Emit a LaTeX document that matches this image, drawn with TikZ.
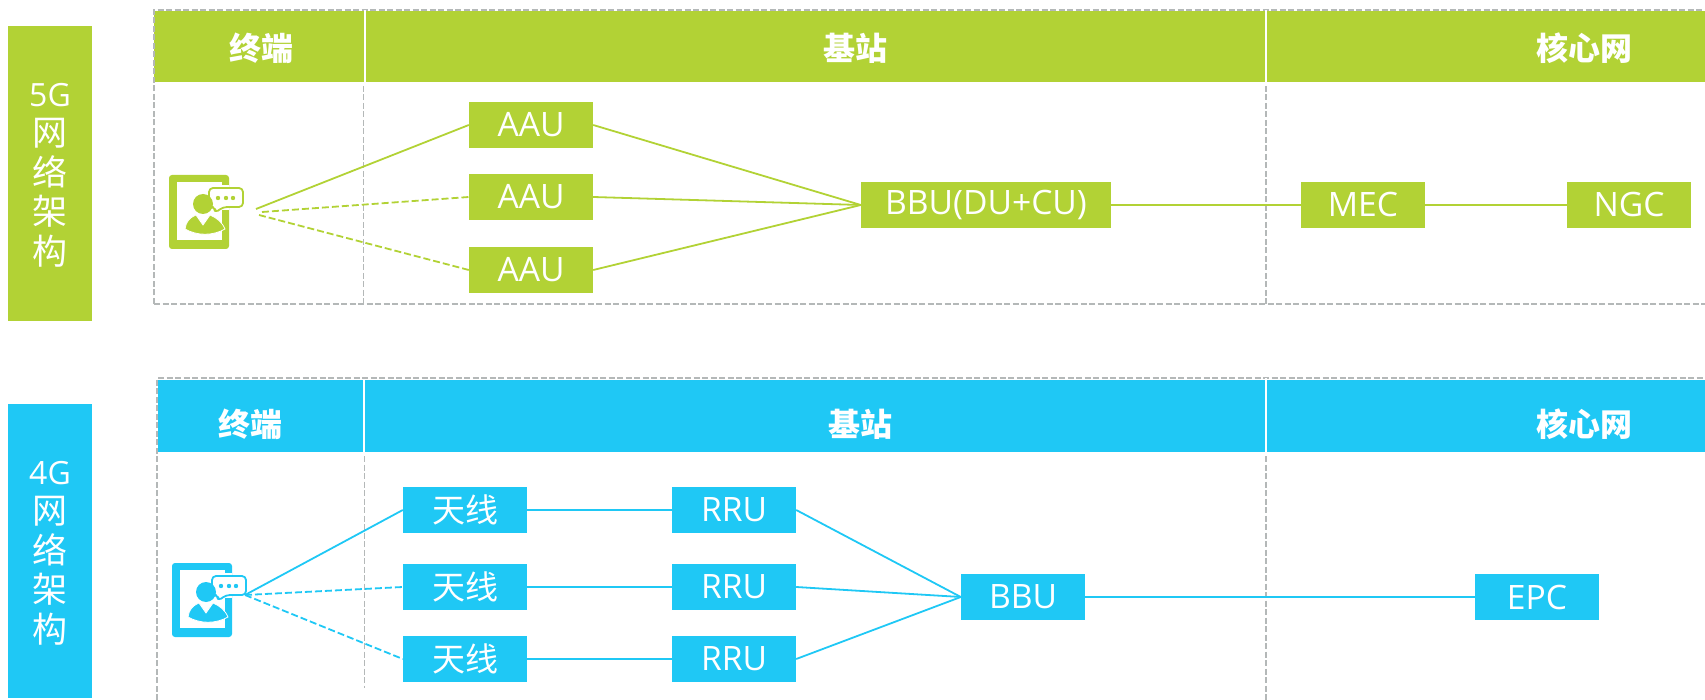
\documentclass[tikz,border=0pt]{standalone}
\usepackage{fontspec}
\setmainfont{Open Sans}
\newfontfamily\cjk{Noto Sans CJK SC}
\usetikzlibrary{backgrounds}

\definecolor{netgreen}{HTML}{B2D235}
\definecolor{netblue}{HTML}{1FC8F5}
\definecolor{dashgray}{HTML}{B4B8B8}

% tablet with a person and a speech bubble: x, y, colour
\newcommand{\termicon}[3]{
    \begin{scope}[shift={(#1,#2)}]
        \fill[#3,rounded corners=3pt] (0,0) rectangle (60,74);
        \fill[white] (8,7) rectangle (53,65);
        \fill[#3] (23,67) rectangle (37,70);
        \fill[white] (37,10) rectangle (60,35);
        \draw[#3,fill=white,line width=1.8pt,rounded corners=4pt,line join=round]
            (40,13) -- (74,13) -- (74,32) -- (54,32) -- (46,38) -- (46,32) -- (40,32) -- cycle;
        \fill[#3] (49,23) circle[radius=2.2];
        \fill[#3] (57,23) circle[radius=2.2];
        \fill[#3] (64,23) circle[radius=2.2];
        \fill[#3] (34,29) circle[radius=10];
        \fill[#3,draw=white,line width=.8pt] (16,54) .. controls (17,47) and (20,43) .. (27,40) -- (34,50) -- (41,40)
            .. controls (48,43) and (53,47) .. (56,54) .. controls (44,61) and (28,61) .. (16,54) -- cycle;
    \end{scope}
}

\begin{document}
\begin{tikzpicture}[x=1pt,y=-1pt]
        \tikzstyle{sidebox}=[
            rectangle,
            minimum width=84pt,
            inner sep=0pt,
            text=white,
            align=center,
            font=\fontsize{32}{39.5}\selectfont
        ]
        \tikzstyle{headband}=[
            rectangle,
            minimum height=71pt,
            inner sep=0pt
        ]
        \tikzstyle{headtext}=[
            text=white,
            inner sep=0pt,
            font=\fontsize{32}{36}\selectfont\cjk\bfseries
        ]
        \tikzstyle{netnode}=[
            rectangle,
            minimum width=124pt,
            minimum height=46pt,
            inner sep=0pt,
            text=white,
            font=\fontsize{33.6}{38}\selectfont
        ]
        \tikzstyle{paneldash}=[dashgray, dash pattern=on 6pt off 2.5pt, line width=1.8pt]
        \tikzstyle{divider}=[white, line width=2pt]
        \tikzstyle{solidlink}=[line width=1.8pt]
        \tikzstyle{dashlink}=[dash pattern=on 7pt off 3pt, line width=1.8pt]

        \newcommand{\sidechar}[1]{{\fontsize{35}{39.5}\selectfont\cjk #1}}

        \useasboundingbox (0,0) rectangle (1705,700);

        % 5G
        \node[sidebox, fill=netgreen, minimum height=295pt] (side5) at (50,173.5){};
        \node[sidebox] (text5) at (50,175){5G\\\sidechar{网}\\\sidechar{络}\\\sidechar{架}\\\sidechar{构}};
        \node[headband, fill=netgreen, minimum width=1551pt] (band5) at (929.5,46.5){};
        \draw[paneldash] (154,304) -- (154,10) -- (1705,10);
        \draw[paneldash] (154,304) -- (1705,304);
        \draw[paneldash] (363.5,86) -- (363.5,304);
        \draw[paneldash] (1266,86) -- (1266,304);
        \draw[divider] (364.5,10) -- (364.5,86);
        \draw[divider] (1266,10) -- (1266,86);
        \node[headtext] (term5) at (261,48){终端};
        \node[headtext] (base5) at (855,48){基站};
        \node[headtext] (core5) at (1584,48){核心网};

        \termicon{169}{175}{netgreen}
        \coordinate (termA) at (256,209);
        \coordinate (termB) at (262,212);
        \coordinate (termC) at (259,215);

        \node[netnode, fill=netgreen] (AAUa) at (531,125){AAU};
        \node[netnode, fill=netgreen] (AAUb) at (531,197){AAU};
        \node[netnode, fill=netgreen] (AAUc) at (531,270){AAU};
        \node[netnode, fill=netgreen, minimum width=250pt] (BBUg) at (986,205){BBU(DU+CU)};
        \node[netnode, fill=netgreen] (MEC) at (1363,205){MEC};
        \node[netnode, fill=netgreen] (NGC) at (1629,205){NGC};

        \draw[netgreen, solidlink] (termA) -- (AAUa.west);
        \draw[netgreen, dashlink] (termB) -- (AAUb.west);
        \draw[netgreen, dashlink] (termC) -- (AAUc.west);
        \draw[netgreen, solidlink] (AAUa.east) -- (BBUg.west);
        \draw[netgreen, solidlink] (AAUb.east) -- (BBUg.west);
        \draw[netgreen, solidlink] (AAUc.east) -- (BBUg.west);
        \draw[netgreen, solidlink] (BBUg.east) -- (MEC.west);
        \draw[netgreen, solidlink] (MEC.east) -- (NGC.west);

        % 4G
        \node[sidebox, fill=netblue, minimum height=294pt] (side4) at (50,551){};
        \node[sidebox] (text4) at (50,553){4G\\\sidechar{网}\\\sidechar{络}\\\sidechar{架}\\\sidechar{构}};
        \node[headband, fill=netblue, minimum width=1547pt] (band4) at (931.5,416){};
        \draw[paneldash] (157,700) -- (157,378) -- (1705,378);
        \draw[paneldash] (364.5,456) -- (364.5,688);
        \draw[paneldash] (1266,456) -- (1266,700);
        \draw[divider] (363.5,380) -- (363.5,456);
        \draw[divider] (1266,378) -- (1266,456);
        \node[headtext] (term4) at (250,424){终端};
        \node[headtext] (base4) at (860,424){基站};
        \node[headtext] (core4) at (1584,424){核心网};

        \termicon{172}{563}{netblue}
        \coordinate (termD) at (245,595);

        \node[netnode, fill=netblue, font=\fontsize{33}{38}\selectfont\cjk] (ANTa) at (465,510){天线};
        \node[netnode, fill=netblue, font=\fontsize{33}{38}\selectfont\cjk] (ANTb) at (465,587){天线};
        \node[netnode, fill=netblue, font=\fontsize{33}{38}\selectfont\cjk] (ANTc) at (465,659){天线};
        \node[netnode, fill=netblue] (RRUa) at (734,510){RRU};
        \node[netnode, fill=netblue] (RRUb) at (734,587){RRU};
        \node[netnode, fill=netblue] (RRUc) at (734,659){RRU};
        \node[netnode, fill=netblue] (BBUb) at (1023,597){BBU};
        \node[netnode, fill=netblue] (EPC) at (1537,597){EPC};

        \draw[netblue, solidlink] (termD) -- (ANTa.west);
        \draw[netblue, dashlink] (termD) -- (ANTb.west);
        \draw[netblue, dashlink] (termD) -- (ANTc.west);
        \draw[netblue, solidlink] (ANTa.east) -- (RRUa.west);
        \draw[netblue, solidlink] (ANTb.east) -- (RRUb.west);
        \draw[netblue, solidlink] (ANTc.east) -- (RRUc.west);
        \draw[netblue, solidlink] (RRUa.east) -- (BBUb.west);
        \draw[netblue, solidlink] (RRUb.east) -- (BBUb.west);
        \draw[netblue, solidlink] (RRUc.east) -- (BBUb.west);
        \draw[netblue, solidlink] (BBUb.east) -- (EPC.west);

    \end{tikzpicture}
\end{document}
